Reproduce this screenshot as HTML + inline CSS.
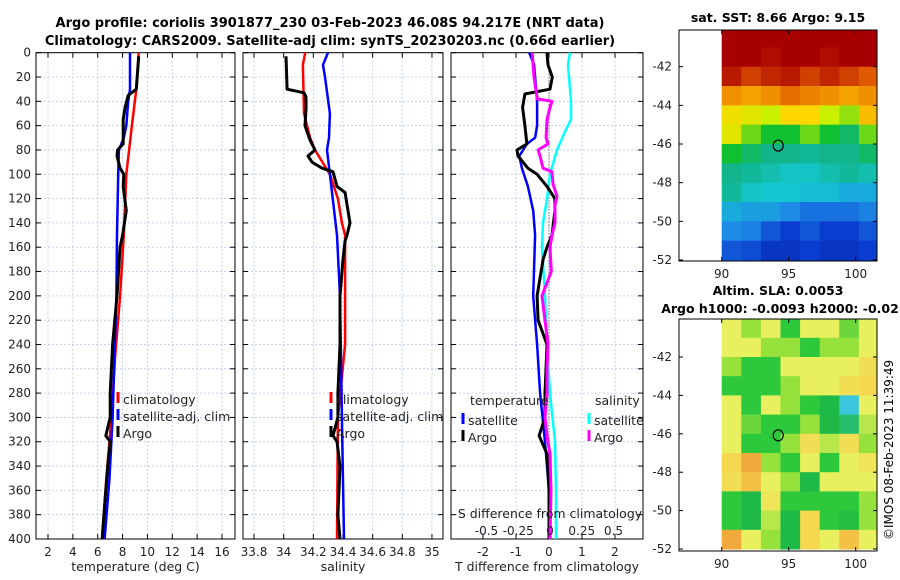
<!DOCTYPE html>
<html><head><meta charset="utf-8"><style>
body{margin:0;background:#fff;}
svg{display:block;font-family:"DejaVu Sans","Liberation Sans",sans-serif;}
</style></head><body>
<svg id="c" width="900" height="580" xmlns="http://www.w3.org/2000/svg">
<text x="330" y="27" font-size="13" font-weight="bold" text-anchor="middle">Argo profile: coriolis 3901877_230 03-Feb-2023 46.08S 94.217E (NRT data)</text>
<text x="330" y="45" font-size="13" font-weight="bold" text-anchor="middle">Climatology: CARS2009. Satellite-adj clim: synTS_20230203.nc (0.66d earlier)</text>
<text x="778" y="22" font-size="12.5" font-weight="bold" text-anchor="middle">sat. SST: 8.66 Argo: 9.15</text>
<text x="778" y="295" font-size="12.5" font-weight="bold" text-anchor="middle">Altim. SLA: 0.0053</text>
<text x="780" y="313" font-size="12.5" font-weight="bold" text-anchor="middle">Argo h1000: -0.0093 h2000: -0.02</text>
<text transform="translate(893,540) rotate(-90)" font-size="12">©IMOS 08-Feb-2023 11:39:49</text>
</svg>
<script>
// ---- data ----
const depthTicks=[0,20,40,60,80,100,120,140,160,180,200,220,240,260,280,300,320,340,360,380,400];
const tempTicks=[2,4,6,8,10,12,14,16];
const salTicks=[33.8,34,34.2,34.4,34.6,34.8,35];
const salTickLabels=["33.8","34","34.2","34.4","34.6","34.8","35"];
const tdiffTicks=[-2,-1,0,1,2];
const sdiffTicks=[-0.5,-0.25,0,0.25,0.5];
const sdiffTickLabels=["-0.5","-0.25","0","0.25","0.5"];

const argoTD=[3,30,35,45,55,75,80,85,95,100,110,130,150,160,200,240,280,300,315,320,340,360,400];
const argoT=[9.3,9.1,8.45,8.2,8.05,8.05,7.6,7.55,7.8,8.1,8.05,8.3,8.0,7.8,7.55,7.2,7.0,7.0,6.65,7.0,6.8,6.65,6.35];
const climTD=[0,30,60,100,150,200,250,300,350,400];
const climT=[9.3,9.1,8.75,8.3,8.1,7.8,7.4,7.1,6.7,6.35];
const satTD=[0,30,40,60,70,80,100,150,200,250,300,350,400];
const satT=[8.6,8.6,8.45,8.3,8.1,7.7,7.65,7.55,7.5,7.35,7.2,6.95,6.55];

const argoSD=[3,30,33,36,45,60,72,80,85,90,95,98,110,115,125,140,150,155,170,200,240,280,300,315,320,340,360,380,400];
const argoS=[34.016,34.023,34.137,34.15,34.151,34.144,34.178,34.211,34.164,34.191,34.259,34.333,34.36,34.414,34.427,34.447,34.427,34.414,34.4,34.38,34.38,34.366,34.366,34.333,34.36,34.38,34.373,34.366,34.38];
const climSD=[0,10,50,70,80,100,120,140,150,240,300,400];
const climS=[34.145,34.13,34.137,34.178,34.211,34.312,34.366,34.393,34.414,34.414,34.366,34.36];
const satSD=[0,10,20,50,70,80,100,150,200,300,400];
const satS=[34.299,34.265,34.279,34.312,34.306,34.292,34.312,34.36,34.38,34.393,34.407];

const tdArgoD=[0,10,20,30,34,45,60,75,80,85,95,100,110,120,130,150,160,170,200,220,240,260,280,300,315,330,360,400];
const tdArgo=[-0.06,-0.03,0.1,0.03,-0.73,-0.8,-0.73,-0.67,-0.97,-0.94,-0.64,-0.36,-0.06,0.18,0.18,0.09,-0.06,-0.18,-0.36,-0.33,-0.06,-0.09,-0.12,-0.12,-0.3,-0.06,0,0];
const tdSatD=[0,10,40,60,70,75,85,95,110,130,150,200,240,280,320,360,400];
const tdSat=[-0.6,-0.45,-0.36,-0.36,-0.42,-0.67,-0.9,-0.82,-0.64,-0.48,-0.42,-0.48,-0.36,-0.27,-0.12,0,0];
const sdArgoD=[0,20,38,40,45,55,70,75,80,85,95,98,108,118,125,140,150,160,180,200,220,240,260,280,300,315,330,360,400];
const sdArgo=[-0.14,-0.126,-0.1,0.016,0,-0.024,-0.031,-0.016,-0.094,-0.079,-0.055,0.016,0.024,0.055,0.039,0.039,0.016,0,0.01,-0.063,-0.039,-0.016,-0.024,-0.024,-0.039,-0.024,0,0.008,0];
const sdSatD=[0,10,40,55,65,80,100,120,140,160,200,240,280,320,360,400];
const sdSat=[0.157,0.142,0.165,0.165,0.118,0.055,0,-0.024,-0.055,-0.063,-0.039,-0.024,0,0.039,0.047,0.047];

const mapLon=[90,91.4625,92.925,94.3875,95.85,97.3125,98.775,100.2375];
const mapLatTicks=[-42,-44,-46,-48,-50,-52];
const lonTicks=[90,95,100];
const sstGrid=[
[.95,.95,.95,.95,.95,.95,.95,.95],
[.95,.95,.94,.95,.95,.94,.95,.95],
[.93,.9,.92,.93,.9,.92,.9,.88],
[.8,.78,.8,.85,.82,.8,.78,.8],
[.7,.68,.65,.72,.72,.65,.62,.75],
[.68,.6,.55,.55,.6,.55,.52,.6],
[.55,.52,.5,.5,.48,.5,.5,.52],
[.5,.48,.45,.42,.42,.45,.48,.45],
[.48,.42,.4,.4,.38,.38,.35,.35],
[.35,.33,.33,.3,.25,.25,.25,.28],
[.3,.28,.2,.15,.2,.15,.15,.2],
[.2,.18,.12,.12,.15,.12,.12,.15]];
const slaGrid=[
[.65,.6,.65,.55,.65,.65,.58,.65],
[.65,.65,.6,.6,.55,.6,.6,.65],
[.6,.55,.55,.65,.65,.65,.65,.7],
[.55,.55,.55,.6,.65,.65,.7,.72],
[.65,.55,.65,.6,.55,.5,.42,.65],
[.65,.58,.55,.55,.6,.5,.48,.62],
[.65,.55,.55,.6,.7,.62,.7,.6],
[.72,.78,.6,.55,.65,.55,.65,.68],
[.7,.75,.65,.6,.5,.65,.65,.65],
[.55,.5,.68,.55,.55,.55,.55,.6],
[.55,.5,.62,.5,.72,.55,.52,.6],
[.78,.65,.6,.5,.72,.65,.75,.65]];
const argoLon=94.217, argoLat=-46.08;

// ---- drawing ----
const svg=document.getElementById('c');
const NS='http://www.w3.org/2000/svg';
function mk(tag,attrs,parent){const e=document.createElementNS(NS,tag);for(const k in attrs)e.setAttribute(k,attrs[k]);(parent||svg).appendChild(e);return e;}
const yTop=52.7,yBot=539;
const yD=d=>yTop+d*(yBot-yTop)/400;

function panel(name,x0,x1,xs,ticks,labels,xlabel){
  const g=mk('g',{});
  
  
  mk('rect',{x:x0,y:yTop,width:x1-x0,height:yBot-yTop,fill:'#fff'},g);
  ticks.forEach((t,i)=>{const x=xs(t);
    const l=mk('line',{x1:x,x2:x,y1:yTop,y2:yBot,stroke:'#b8c4ec','stroke-width':0.8,'stroke-dasharray':'2,2'},g);
    
    mk('line',{x1:x,x2:x,y1:yBot,y2:yBot-5,stroke:'#000'},g);mk('line',{x1:x,x2:x,y1:yTop,y2:yTop+5,stroke:'#000'},g);
    const tx=mk('text',{x:x,y:yBot+17,'font-size':12,'text-anchor':'middle',fill:'#222'},g);tx.textContent=labels[i];
    
  });
  depthTicks.forEach(d=>{const y=yD(d);
    mk('line',{x1:x0,x2:x1,y1:y,y2:y,stroke:'#b8c4ec','stroke-width':0.8,'stroke-dasharray':'2,2'},g);
    mk('line',{x1:x0,x2:x0+5,y1:y,y2:y,stroke:'#000'},g);mk('line',{x1:x1,x2:x1-5,y1:y,y2:y,stroke:'#000'},g);
  });
  mk('rect',{x:x0,y:yTop,width:x1-x0,height:yBot-yTop,fill:'none',stroke:'#000','stroke-width':1},g);
  const xl=mk('text',{x:(x0+x1)/2,y:571,'font-size':12.5,'text-anchor':'middle',fill:'#222'},g);xl.textContent=xlabel;
  
  return g;
}
function line(g,xs,ds,vs,color,w,name){
  const p=ds.map((d,i)=>(i?'L':'M')+xs(vs[i]).toFixed(1)+','+yD(d).toFixed(1)).join('');
  const e=mk('path',{d:p,fill:'none',stroke:color,'stroke-width':w,'stroke-linejoin':'round'},g);
  
}
function legend(g,x,y,items){
  items.forEach((it,i)=>{const yy=y+i*17;
    mk('line',{x1:x,x2:x,y1:yy-8,y2:yy+3,stroke:it[1],'stroke-width':3},g);
    const t=mk('text',{x:x+5,y:yy+4,'font-size':12.5,fill:'#222'},g);t.textContent=it[0];
    
  });
}
depthTicks.forEach(d=>{const t=mk('text',{x:31,y:yD(d)+4,'font-size':12,'text-anchor':'end',fill:'#222'});t.textContent=d;
  });

// Panel 1
const xT=v=>48+(v-2)*12.43;
const g1=panel('temperature-panel',36,235,xT,tempTicks,tempTicks.map(String),'temperature (deg C)');
line(g1,xT,climTD,climT,'#f00',2.5,'temperature-climatology-line');
line(g1,xT,satTD,satT,'#00f',2.5,'temperature-satellite-line');
line(g1,xT,argoTD,argoT,'#000',3,'temperature-argo-line');
legend(g1,118,400,[['climatology','#f00'],['satellite-adj. clim','#00f'],['Argo','#000']]);

// Panel 2
const xS=v=>254+(v-33.8)*148.3;
const g2=panel('salinity-panel',243,443,xS,salTicks,salTickLabels,'salinity');
line(g2,xS,climSD,climS,'#f00',2.5,'salinity-climatology-line');
line(g2,xS,satSD,satS,'#00f',2.5,'salinity-satellite-line');
line(g2,xS,argoSD,argoS,'#000',3,'salinity-argo-line');
legend(g2,331,400,[['climatology','#f00'],['satellite-adj. clim','#00f'],['Argo','#000']]);

// Panel 3
const xTd=v=>549+v*33;
const xSd=v=>550+v*127;
const g3=panel('difference-panel',451,643,xTd,tdiffTicks,tdiffTicks.map(String),'T difference from climatology');
mk('line',{x1:xTd(0),x2:xTd(0),y1:yD(8),y2:yBot,stroke:'#333','stroke-width':1,'stroke-dasharray':'1,2'},g3);
line(g3,xSd,sdSatD,sdSat,'#0ff',2.5,'sdiff-satellite-line');
line(g3,xTd,tdSatD,tdSat,'#00f',2.5,'tdiff-satellite-line');
line(g3,xTd,tdArgoD,tdArgo,'#000',3,'tdiff-argo-line');
line(g3,xSd,sdArgoD,sdArgo,'#f0f',3,'sdiff-argo-line');
{const t=mk('text',{x:470,y:405,'font-size':12.5,fill:'#222'},g3);t.textContent='temperature';
 const s=mk('text',{x:595,y:405,'font-size':12.5,fill:'#222'},g3);s.textContent='salinity';}
legend(g3,463,421,[['satellite','#00f'],['Argo','#000']]);
legend(g3,589,421,[['satellite','#0ff'],['Argo','#f0f']]);
{const t=mk('text',{x:550,y:518,'font-size':12.5,'text-anchor':'middle',fill:'#222'},g3);t.textContent='S difference from climatology';
 
 sdiffTicks.forEach((v,i)=>{const l=mk('text',{x:xSd(v),y:535,'font-size':12,'text-anchor':'middle',fill:'#222'},g3);l.textContent=sdiffTickLabels[i];});}

// Maps
const sstStops=[[0,[0,26,140]],[0.15,[10,60,207]],[0.3,[30,140,230]],[0.4,[20,200,210]],[0.5,[18,180,140]],[0.55,[16,192,48]],[0.65,[200,240,0]],[0.72,[255,215,0]],[0.8,[240,144,0]],[0.88,[224,90,0]],[0.95,[168,0,0]],[1,[140,0,0]]];
const slaStops=[[0,[20,100,200]],[0.42,[60,200,220]],[0.5,[30,185,70]],[0.55,[45,200,60]],[0.6,[150,225,60]],[0.65,[232,240,95]],[0.72,[245,215,80]],[0.78,[240,170,60]],[1,[230,120,40]]];
function cmap(stops,v){for(let i=1;i<stops.length;i++){if(v<=stops[i][0]){const a=stops[i-1],b=stops[i],t=(v-a[0])/(b[0]-a[0]);return 'rgb('+a[1].map((c,k)=>Math.round(c+(b[1][k]-c)*t)).join(',')+')';}}const l=stops[stops.length-1][1];return 'rgb('+l.join(',')+')';}
function map(name,y0,y1,grid,sla){
  const x0=679,x1=877;
  const ybot=sla?549:260, ytop42=sla?357:66.7;
  const ky=(ybot-ytop42)/10;
  const yL=lat=>ybot-(lat+52)*ky;
  const xL=lon=>721.7+(lon-90)*13.4;
  const stops=sla?slaStops:sstStops;
  const g=mk('g',{});
  
  
  const cw=mapLon[1]-mapLon[0];
  grid.forEach((row,r)=>row.forEach((v,c)=>{
    const la=-40-r, lx=xL(mapLon[c]);
    const ya=Math.max(y0,yL(la)), yb=Math.min(y1,yL(la-1));
    const xr=Math.min(x1,xL(mapLon[c]+cw));
    const cell=mk('rect',{x:lx,y:ya,width:xr-lx+0.5,height:yb-ya+0.5,fill:cmap(stops,v)},g);
    
    
  }));
  mk('rect',{x:x0,y:y0,width:x1-x0,height:y1-y0,fill:'none',stroke:'#000'},g);
  mapLatTicks.forEach(la=>{const y=yL(la);mk('line',{x1:x0,x2:x0+4,y1:y,y2:y,stroke:'#000'},g);mk('line',{x1:x1,x2:x1-4,y1:y,y2:y,stroke:'#000'},g);
    const t=mk('text',{x:672,y:y+4,'font-size':12,'text-anchor':'end',fill:'#222'},g);t.textContent=la;});
  lonTicks.forEach(lo=>{const x=xL(lo);mk('line',{x1:x,x2:x,y1:y1,y2:y1-4,stroke:'#000'},g);mk('line',{x1:x,x2:x,y1:y0,y2:y0+4,stroke:'#000'},g);
    const t=mk('text',{x:x,y:y1+17,'font-size':12,'text-anchor':'middle',fill:'#222'},g);t.textContent=lo;});
  const m=mk('ellipse',{cx:xL(argoLon),cy:yL(argoLat),rx:5,ry:5.5,fill:'none',stroke:'#000','stroke-width':1.2},g);
  
}
map('sst-map',30,261,sstGrid,false);
map('sla-map',319,551,slaGrid,true);
</script>
</body></html>
